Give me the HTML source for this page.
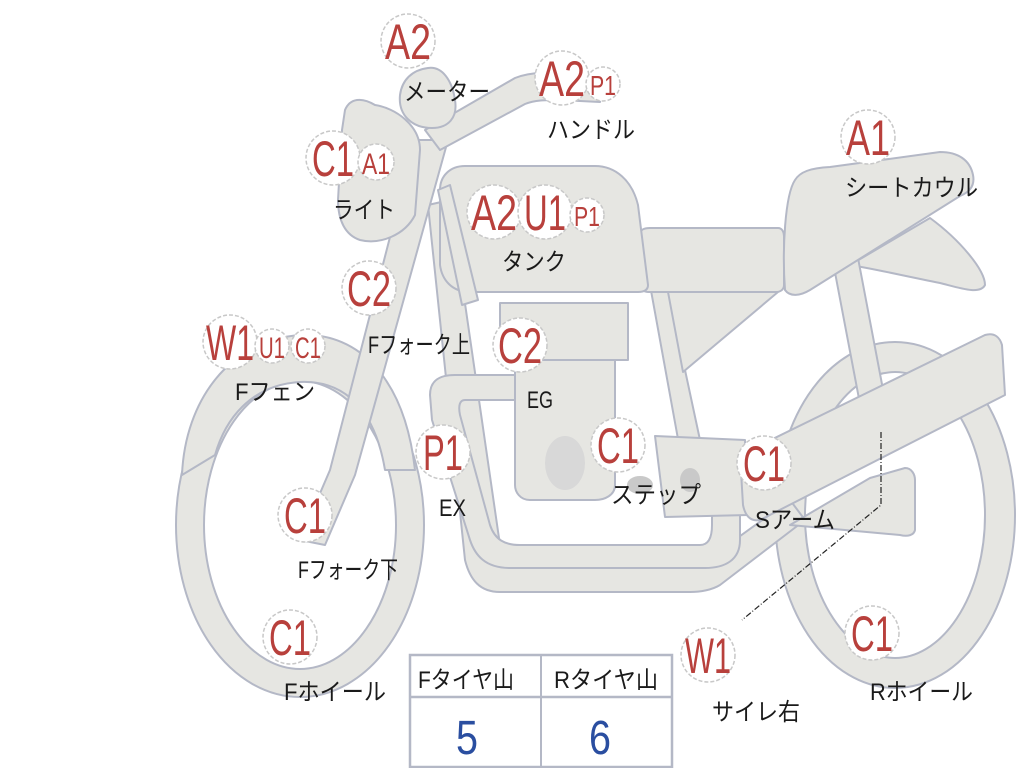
<!DOCTYPE html>
<html><head><meta charset="utf-8"><style>
html,body{margin:0;padding:0;background:#fff;width:1024px;height:768px;overflow:hidden}
svg{display:block}
.s{fill:#e6e6e2;stroke:#b4b8c6;stroke-width:2;stroke-linejoin:round}
.b{fill:#fff;stroke:#c8c8c8;stroke-width:1.5;stroke-dasharray:4 2}
.r{fill:#b8403c;font-family:"Liberation Sans","Noto Sans CJK JP",sans-serif}
.k{fill:#1a1a1a;font-family:"Liberation Sans","Noto Sans CJK JP",sans-serif;font-size:24px}
</style></head><body>
<svg width="1024" height="768" viewBox="0 0 1024 768" xmlns="http://www.w3.org/2000/svg">
<ellipse cx="300" cy="525" rx="110" ry="158" fill="none" stroke="#b4b8c6" stroke-width="30"/>
<ellipse cx="300" cy="525" rx="110" ry="158" fill="none" stroke="#e6e6e2" stroke-width="26"/>
<ellipse cx="895" cy="515" rx="105" ry="158" fill="none" stroke="#b4b8c6" stroke-width="32"/>
<ellipse cx="895" cy="515" rx="105" ry="158" fill="none" stroke="#e6e6e2" stroke-width="28"/>
<path class="s" d="M182,475 C185,400 230,340 300,335 C360,332 405,380 415,470 L385,470 C375,410 345,380 300,382 C250,385 225,420 215,455 Z"/>
<path class="s" d="M930,218 C960,240 985,270 985,285 C980,295 960,288 940,283 C900,275 870,268 850,265 Z"/>
<path class="s" d="M833,262 L858,258 L885,400 L860,404 Z"/>
<path class="s" d="M428,205 L450,200 L500,545 C505,560 515,565 530,565 L700,565 L790,500 L805,520 L720,585 C712,590 700,592 690,592 L500,592 C480,592 470,580 465,560 Z"/>
<path class="s" d="M430,395 C430,380 440,375 455,375 L520,375 L520,400 L465,400 C460,400 458,405 460,415 L490,525 C495,540 505,545 520,545 L700,545 C710,545 712,535 712,525 L712,440 L740,440 L740,540 C740,560 725,568 705,568 L510,568 C485,568 475,555 470,540 L432,420 Z"/>
<path class="s" d="M640,230 L655,230 L700,440 L710,515 L690,515 L680,450 Z"/>
<path class="s" d="M500,303 L628,303 L628,360 L500,360 Z"/>
<path class="s" d="M515,360 L615,360 L615,485 C615,495 605,500 595,500 L530,500 C520,500 515,492 515,485 Z"/>
<ellipse cx="565" cy="463" rx="20" ry="27" fill="#d8d8d8"/>
<path class="s" d="M655,436 L745,440 L748,515 L665,517 Z"/>
<ellipse cx="640" cy="485" rx="13" ry="9" fill="#c9c9c9"/>
<ellipse cx="690" cy="480" rx="10" ry="12" fill="#c9c9c9"/>
<path class="s" d="M740,455 L985,335 C995,332 1000,338 1002,345 L1005,395 L760,520 C750,522 745,515 743,505 Z"/>
<path class="s" d="M870,478 L905,468 C912,468 915,475 915,480 L915,530 C914,535 908,537 900,535 L790,525 Z"/>
<path class="s" d="M668,292 L778,292 L683,372 Z"/>
<path class="s" d="M640,234 C640,230 644,228 650,228 L778,228 C782,228 784,232 784,236 L784,285 C784,290 780,292 776,292 L648,292 C643,292 640,288 640,284 Z"/>
<path class="s" d="M785,290 C782,250 785,195 795,180 C800,172 810,168 830,167 L940,152 C958,152 970,160 973,175 C975,185 970,192 960,196 L810,290 C800,296 790,297 785,290 Z"/>
<path class="s" d="M440,190 C440,176 450,166 465,166 L595,166 C615,166 632,180 638,205 L648,285 C648,290 644,292 638,292 L470,292 C452,292 442,280 440,265 Z"/>
<path class="s" d="M415,140 L448,140 L355,475 L325,545 L300,540 L330,470 Z"/>
<path class="s" d="M438,190 L450,185 L478,300 L462,305 Z"/>
<path class="s" d="M425,130 L515,78 C530,72 545,72 560,75 L598,78 L600,102 L560,100 C545,100 535,100 525,104 L440,150 Z"/>
<path class="s" d="M400,95 C402,80 412,70 428,68 C442,66 452,80 455,100 C458,118 448,128 432,128 C412,128 398,115 400,95 Z"/>
<path class="s" d="M345,110 C350,98 362,97 375,105 C395,108 420,125 420,150 L415,215 C405,235 380,245 360,240 C345,235 338,220 338,200 L342,130 Z"/>
<path d="M881,432 L881,505 L742,620" fill="none" stroke="#222" stroke-width="1.2" stroke-dasharray="6 2 1 2"/>

<g>
<circle class="b" cx="408" cy="41" r="27"/><text class="r" x="408" y="59" font-size="50" text-anchor="middle" textLength="46" lengthAdjust="spacingAndGlyphs">A2</text>
<circle class="b" cx="562" cy="78" r="27"/><text class="r" x="562" y="96" font-size="50" text-anchor="middle" textLength="46" lengthAdjust="spacingAndGlyphs">A2</text>
<circle class="b" cx="603" cy="84" r="17"/><text class="r" x="603" y="95" font-size="28" text-anchor="middle" textLength="26" lengthAdjust="spacingAndGlyphs">P1</text>
<circle class="b" cx="333" cy="158" r="27"/><text class="r" x="333" y="176" font-size="50" text-anchor="middle" textLength="42" lengthAdjust="spacingAndGlyphs">C1</text>
<circle class="b" cx="376" cy="162" r="18"/><text class="r" x="376" y="174" font-size="30" text-anchor="middle" textLength="28" lengthAdjust="spacingAndGlyphs">A1</text>
<circle class="b" cx="494" cy="212" r="27"/><text class="r" x="494" y="230" font-size="50" text-anchor="middle" textLength="46" lengthAdjust="spacingAndGlyphs">A2</text>
<circle class="b" cx="545" cy="212" r="27"/><text class="r" x="545" y="230" font-size="50" text-anchor="middle" textLength="42" lengthAdjust="spacingAndGlyphs">U1</text>
<circle class="b" cx="587" cy="215" r="17"/><text class="r" x="587" y="226" font-size="28" text-anchor="middle" textLength="26" lengthAdjust="spacingAndGlyphs">P1</text>
<circle class="b" cx="868" cy="137" r="27"/><text class="r" x="868" y="155" font-size="50" text-anchor="middle" textLength="44" lengthAdjust="spacingAndGlyphs">A1</text>
<circle class="b" cx="369" cy="288" r="27"/><text class="r" x="369" y="306" font-size="50" text-anchor="middle" textLength="44" lengthAdjust="spacingAndGlyphs">C2</text>
<circle class="b" cx="230" cy="342" r="27"/><text class="r" x="230" y="360" font-size="50" text-anchor="middle" textLength="48" lengthAdjust="spacingAndGlyphs">W1</text>
<circle class="b" cx="272" cy="346" r="17"/><text class="r" x="272" y="358" font-size="30" text-anchor="middle" textLength="26" lengthAdjust="spacingAndGlyphs">U1</text>
<circle class="b" cx="308" cy="346" r="17"/><text class="r" x="308" y="358" font-size="30" text-anchor="middle" textLength="26" lengthAdjust="spacingAndGlyphs">C1</text>
<circle class="b" cx="520" cy="345" r="27"/><text class="r" x="520" y="363" font-size="50" text-anchor="middle" textLength="44" lengthAdjust="spacingAndGlyphs">C2</text>
<circle class="b" cx="443" cy="452" r="27"/><text class="r" x="443" y="470" font-size="50" text-anchor="middle" textLength="40" lengthAdjust="spacingAndGlyphs">P1</text>
<circle class="b" cx="618" cy="445" r="27"/><text class="r" x="618" y="463" font-size="50" text-anchor="middle" textLength="42" lengthAdjust="spacingAndGlyphs">C1</text>
<circle class="b" cx="764" cy="463" r="27"/><text class="r" x="764" y="481" font-size="50" text-anchor="middle" textLength="42" lengthAdjust="spacingAndGlyphs">C1</text>
<circle class="b" cx="305" cy="515" r="27"/><text class="r" x="305" y="533" font-size="50" text-anchor="middle" textLength="42" lengthAdjust="spacingAndGlyphs">C1</text>
<circle class="b" cx="290" cy="637" r="27"/><text class="r" x="290" y="655" font-size="50" text-anchor="middle" textLength="42" lengthAdjust="spacingAndGlyphs">C1</text>
<circle class="b" cx="708" cy="655" r="27"/><text class="r" x="708" y="673" font-size="50" text-anchor="middle" textLength="46" lengthAdjust="spacingAndGlyphs">W1</text>
<circle class="b" cx="872" cy="633" r="27"/><text class="r" x="872" y="651" font-size="50" text-anchor="middle" textLength="42" lengthAdjust="spacingAndGlyphs">C1</text>
</g>
<g>
<text class="k" x="404" y="100" textLength="86" lengthAdjust="spacingAndGlyphs">メーター</text>
<text class="k" x="547" y="138" textLength="88" lengthAdjust="spacingAndGlyphs">ハンドル</text>
<text class="k" x="333" y="218" textLength="62" lengthAdjust="spacingAndGlyphs">ライト</text>
<text class="k" x="502" y="270" textLength="64" lengthAdjust="spacingAndGlyphs">タンク</text>
<text class="k" x="845" y="196" textLength="133" lengthAdjust="spacingAndGlyphs">シートカウル</text>
<text class="k" x="368" y="353" textLength="102" lengthAdjust="spacingAndGlyphs">Fフォーク上</text>
<text class="k" x="235" y="400" textLength="80" lengthAdjust="spacingAndGlyphs">Fフェン</text>
<text class="k" x="527" y="408" textLength="26" lengthAdjust="spacingAndGlyphs">EG</text>
<text class="k" x="439" y="516" textLength="27" lengthAdjust="spacingAndGlyphs">EX</text>
<text class="k" x="611" y="503" textLength="90" lengthAdjust="spacingAndGlyphs">ステップ</text>
<text class="k" x="755" y="528" textLength="80" lengthAdjust="spacingAndGlyphs">Sアーム</text>
<text class="k" x="298" y="578" textLength="100" lengthAdjust="spacingAndGlyphs">Fフォーク下</text>
<text class="k" x="284" y="700" textLength="102" lengthAdjust="spacingAndGlyphs">Fホイール</text>
<text class="k" x="712" y="720" textLength="88" lengthAdjust="spacingAndGlyphs">サイレ右</text>
<text class="k" x="870" y="700" textLength="103" lengthAdjust="spacingAndGlyphs">Rホイール</text>
</g>
<rect x="410" y="655" width="262" height="112" fill="#fff" stroke="#b4b8c6" stroke-width="2.5"/>
<line x1="410" y1="697" x2="672" y2="697" stroke="#b4b8c6" stroke-width="2.5"/>
<line x1="541" y1="655" x2="541" y2="767" stroke="#b4b8c6" stroke-width="2"/>
<text class="k" x="418" y="688" textLength="96" lengthAdjust="spacingAndGlyphs">Fタイヤ山</text>
<text class="k" x="554" y="688" textLength="104" lengthAdjust="spacingAndGlyphs">Rタイヤ山</text>
<text x="467" y="754" font-size="48" fill="#2a4ea0" font-family="Liberation Sans,sans-serif" text-anchor="middle" textLength="22" lengthAdjust="spacingAndGlyphs">5</text>
<text x="600" y="754" font-size="48" fill="#2a4ea0" font-family="Liberation Sans,sans-serif" text-anchor="middle" textLength="22" lengthAdjust="spacingAndGlyphs">6</text>
</svg>
</body></html>
